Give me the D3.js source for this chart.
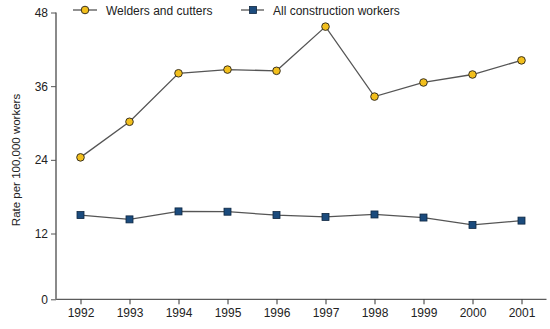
<!DOCTYPE html>
<html><head><meta charset="utf-8">
<script src="https://cdn.jsdelivr.net/npm/d3@7"></script>
<style>body{margin:0;background:#fff}svg{display:block}text{font-family:"Liberation Sans",Arial,sans-serif;fill:#222}</style>
</head><body>
<svg id="c" width="550" height="329"></svg>
<script>
const years = ["1992","1993","1994","1995","1996","1997","1998","1999","2000","2001"];
const welders = [24.4, 30.2, 38.1, 38.7, 38.5, 45.7, 34.3, 36.6, 37.9, 40.2];
const construction = [15.0, 14.3, 15.6, 15.55, 15.0, 14.7, 15.1, 14.6, 13.4, 14.1];
const yTicks = [0, 12, 24, 36, 48];
const seriesNames = ["Welders and cutters", "All construction workers"];

const svg = d3.select("#c");
const x = d3.scalePoint().domain(years).range([56, 546]).padding(0.5);
const y = d3.scaleLinear().domain([0, 12, 48]).range([299.3, 233.5, 12.5]);

// axes
const xAxis = svg.append("g").attr("transform", "translate(0,299.3)")
  .call(d3.axisBottom(x).tickSize(5).tickPadding(4));
xAxis.select(".domain").attr("stroke", "#333").attr("d", "M56,0H546.5");
xAxis.selectAll(".tick line").attr("stroke", "#333");
xAxis.selectAll("text").attr("font-size", 12).style("font-family", "Liberation Sans, Arial, sans-serif").attr("fill", "#222");

const yAxis = svg.append("g").attr("transform", "translate(56,0)")
  .call(d3.axisLeft(y).tickValues(yTicks).tickSize(5).tickPadding(3));
yAxis.select(".domain").attr("stroke", "#8a8a8a").attr("stroke-width", 2).attr("d", "M0,12.5V299.3");
yAxis.selectAll(".tick line").attr("stroke", "#555");
yAxis.selectAll("text").attr("font-size", 12).style("font-family", "Liberation Sans, Arial, sans-serif").attr("fill", "#222");

svg.append("text").attr("transform", "translate(20,160) rotate(-90)")
  .attr("text-anchor", "middle").attr("font-size", 11.5).text("Rate per 100,000 workers");

const line = d3.line().x((d, i) => x(years[i])).y(d => y(d));

// welders
svg.append("path").datum(welders).attr("d", line).attr("fill", "none").attr("stroke", "#555").attr("stroke-width", 1.3);
svg.append("path").datum(construction).attr("d", line).attr("fill", "none").attr("stroke", "#555").attr("stroke-width", 1.3);

svg.selectAll("circle.w").data(welders).join("circle").attr("class", "w")
  .attr("cx", (d, i) => x(years[i])).attr("cy", d => y(d)).attr("r", 3.8)
  .attr("fill", "#f2bf1c").attr("stroke", "#3a3220").attr("stroke-width", 1);

svg.selectAll("rect.c").data(construction).join("rect").attr("class", "c")
  .attr("x", (d, i) => x(years[i]) - 3.5).attr("y", d => y(d) - 3.5).attr("width", 7).attr("height", 7)
  .attr("fill", "#1b4b7d").attr("stroke", "#0e2640").attr("stroke-width", 0.8);

// legend
const lg = svg.append("g");
lg.append("line").attr("x1", 73).attr("x2", 97).attr("y1", 10).attr("y2", 10).attr("stroke", "#555").attr("stroke-width", 1.3);
lg.append("circle").attr("cx", 85).attr("cy", 10).attr("r", 3.8).attr("fill", "#f2bf1c").attr("stroke", "#3a3220");
lg.append("text").attr("x", 106).attr("y", 14.5).attr("font-size", 12).text(seriesNames[0]);
lg.append("line").attr("x1", 241).attr("x2", 264).attr("y1", 10).attr("y2", 10).attr("stroke", "#555").attr("stroke-width", 1.3);
lg.append("rect").attr("x", 249.5).attr("y", 6.5).attr("width", 7).attr("height", 7).attr("fill", "#1b4b7d").attr("stroke", "#0e2640").attr("stroke-width", 0.8);
lg.append("text").attr("x", 273).attr("y", 14.5).attr("font-size", 12).text(seriesNames[1]);
</script>
</body></html>
